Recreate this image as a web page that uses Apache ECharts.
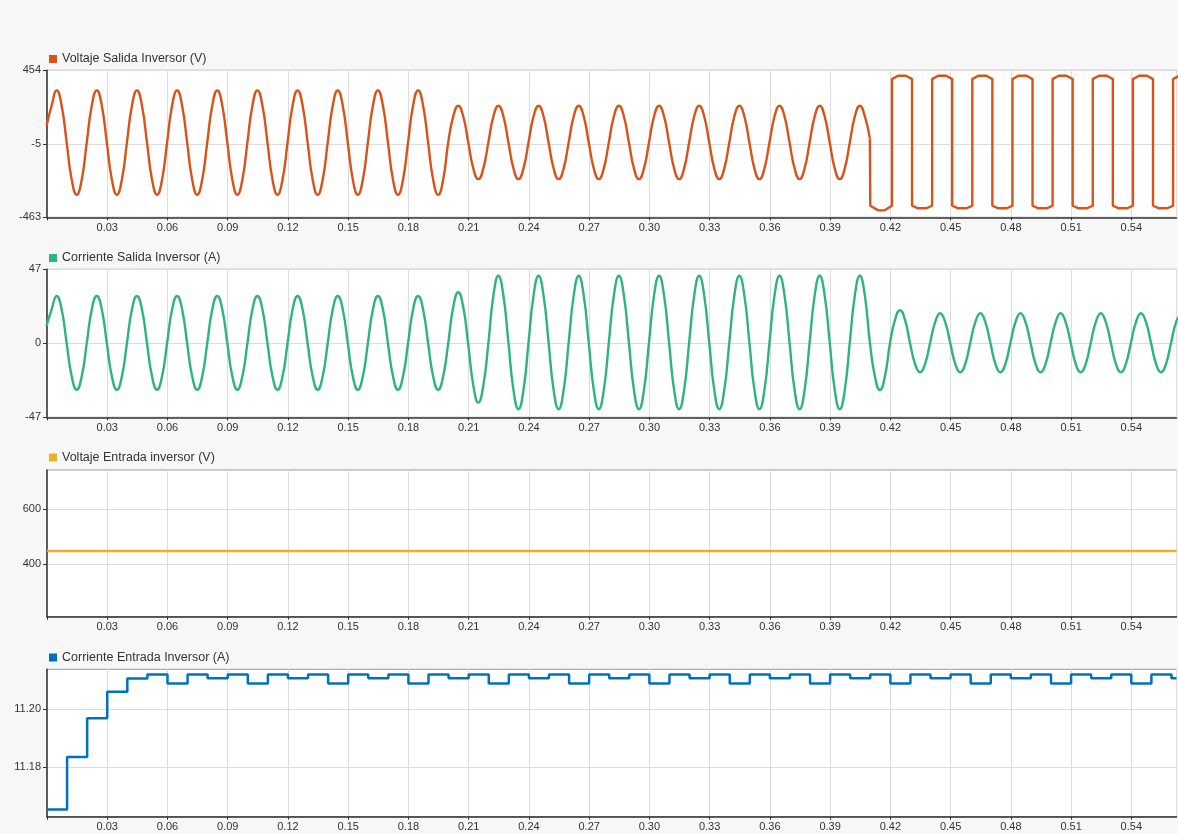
<!DOCTYPE html>
<html>
<head>
<meta charset="utf-8">
<script src="https://cdn.jsdelivr.net/npm/echarts@6/dist/echarts.min.js"></script>
<style>
html,body{margin:0;padding:0;background:#f7f7f7;}
#chart{width:1178px;height:834px;}
</style>
</head>
<body>
<div id="chart"></div>
<script>
// ---------------- DATA ----------------
// time axis
const xMin = 0;
const xMax = 0.5625;
const xInterval = 0.03;

// series names
const nameVout = 'Voltaje Salida Inversor (V)';
const nameIout = 'Corriente Salida Inversor (A)';
const nameVin  = 'Voltaje Entrada inversor (V)';
const nameIin  = 'Corriente Entrada Inversor (A)';

// y tick labels per panel
const voutTicks = [-463, -5, 454];
const ioutTicks = [-47, 0, 47];
const vinTicks  = [400, 600];
const iinTicks  = [11.18, 11.20];

// sampled waveforms: sample k is at time waveT0 + k * waveDt
const waveT0 = -0.0002;
const waveDt = 0.0025;

// output voltage (sinusoidal part, up to ~0.41 s)
const voutSine = [
  110, 233, 329, 233, 3, -228, -323, -228,
  3, 233, 329, 233, 3, -228, -323, -228,
  3, 233, 329, 233, 3, -228, -323, -228,
  3, 233, 329, 233, 3, -228, -323, -228,
  3, 233, 329, 233, 3, -228, -323, -228,
  3, 233, 329, 233, 3, -228, -323, -228,
  3, 233, 329, 233, 3, -228, -323, -228,
  3, 233, 329, 233, 3, -228, -323, -228,
  3, 233, 329, 233, 3, -228, -323, -228,
  3, 233, 329, 233, 3, -228, -323, -228,
  4, 166, 233, 166, 4, -158, -225, -158,
  4, 166, 233, 166, 4, -158, -225, -158,
  4, 166, 233, 166, 4, -158, -225, -158,
  4, 166, 233, 166, 4, -158, -225, -158,
  4, 166, 233, 166, 4, -158, -225, -158,
  4, 166, 233, 166, 4, -158, -225, -158,
  4, 166, 233, 166, 4, -158, -225, -158,
  4, 166, 233, 166, 4, -158, -225, -158,
  4, 166, 233, 166, 4, -158, -225, -158,
  4, 166, 233, 166, 4, -158, -225, -158,
  4, 166, 233, 166,
  29
];

// output voltage (square-wave part, after ~0.41 s)
const voutSquareT = [
  0.4098, 0.4100, 0.4140, 0.4170,
  0.4208, 0.4208, 0.4238, 0.4278, 0.4308, 0.4308, 0.4338, 0.4378,
  0.4408, 0.4408, 0.4438, 0.4478, 0.4508, 0.4508, 0.4538, 0.4578,
  0.4608, 0.4608, 0.4638, 0.4678, 0.4708, 0.4708, 0.4738, 0.4778,
  0.4808, 0.4808, 0.4838, 0.4878, 0.4908, 0.4908, 0.4938, 0.4978,
  0.5008, 0.5008, 0.5038, 0.5078, 0.5108, 0.5108, 0.5138, 0.5178,
  0.5208, 0.5208, 0.5238, 0.5278, 0.5308, 0.5308, 0.5338, 0.5378,
  0.5408, 0.5408, 0.5438, 0.5478, 0.5508, 0.5508, 0.5538, 0.5578,
  0.5608, 0.5608, 0.5638, 0.5678
];
const voutSquareV = [
  29, -391, -420, -420,
  -391, 399, 420, 420, 399, -391, -407, -407,
  -391, 399, 420, 420, 399, -391, -407, -407,
  -391, 399, 420, 420, 399, -391, -407, -407,
  -391, 399, 420, 420, 399, -391, -407, -407,
  -391, 399, 420, 420, 399, -391, -407, -407,
  -391, 399, 420, 420, 399, -391, -407, -407,
  -391, 399, 420, 420, 399, -391, -407, -407,
  -391, 399, 420, 420
];

// output current
const ioutWave = [
  11, 21.5, 30, 21.5, 0, -21, -29.5, -21,
  0, 21.5, 30, 21.5, 0, -21, -29.5, -21,
  0, 21.5, 30, 21.5, 0, -21, -29.5, -21,
  0, 21.5, 30, 21.5, 0, -21, -29.5, -21,
  0, 21.5, 30, 21.5, 0, -21, -29.5, -21,
  0, 21.5, 30, 21.5, 0, -21, -29.5, -21,
  0, 21.5, 30, 21.5, 0, -21, -29.5, -21,
  0, 21.5, 30, 21.5, 0, -21, -29.5, -21,
  0, 21.5, 30, 21.5, 0, -21, -29.5, -21,
  0, 21.5, 30, 21.5, 0, -21, -29.5, -21,
  0, 23, 32.4, 23, -1, -26.7, -37.7, -26.7,
  0, 30.3, 42.9, 30.3, 0.5, -29.6, -41.9, -29.6,
  0.5, 30.3, 42.9, 30.3, 0.5, -29.6, -41.9, -29.6,
  0.5, 30.3, 42.9, 30.3, 0.5, -29.6, -41.9, -29.6,
  0.5, 30.3, 42.9, 30.3, 0.5, -29.6, -41.9, -29.6,
  0.5, 30.3, 42.9, 30.3, 0.5, -29.6, -41.9, -29.6,
  0.5, 30.3, 42.9, 30.3, 0.5, -29.6, -41.9, -29.6,
  0.5, 30.3, 42.9, 30.3, 0.5, -29.6, -41.9, -29.6,
  0.5, 30.3, 42.9, 30.3, 0.5, -29.6, -41.9, -29.6,
  0.5, 30.3, 42.9, 30.3, 0.5, -29.6, -41.9, -29.6,
  0.5, 30.3, 42.9, 30.3, 0.5, -21, -29.7, -21,
  0, 14.9, 21.1, 14.9, 0, -13, -18.4, -13,
  0.35, 13.5, 19.1, 13.5, 0.35, -13, -18.4, -13,
  0.35, 13.5, 19.1, 13.5, 0.35, -13, -18.4, -13,
  0.35, 13.5, 19.1, 13.5, 0.35, -13, -18.4, -13,
  0.35, 13.5, 19.1, 13.5, 0.35, -13, -18.4, -13,
  0.35, 13.5, 19.1, 13.5, 0.35, -13, -18.4, -13,
  0.35, 13.5, 19.1, 13.5, 0.35, -13, -18.4, -13,
  0.35, 13.5, 19.1
];

// input voltage (constant DC)
const vinT = [0, 0.5625];
const vinV = [448, 448];

// input current, zero-order hold, one value every iinDt seconds
const iinDt = 0.01;
const iinValues = [
  11.1653, 11.1835, 11.1969, 11.2061, 11.2107,
  11.2121, 11.2090, 11.2121, 11.2108,
  11.2121, 11.2090, 11.2121, 11.2108,
  11.2121, 11.2090, 11.2121, 11.2108,
  11.2121, 11.2090, 11.2121, 11.2108,
  11.2121, 11.2090, 11.2121, 11.2108,
  11.2121, 11.2090, 11.2121, 11.2108,
  11.2121, 11.2090, 11.2121, 11.2108,
  11.2121, 11.2090, 11.2121, 11.2108,
  11.2121, 11.2090, 11.2121, 11.2108,
  11.2121, 11.2090, 11.2121, 11.2108,
  11.2121, 11.2090, 11.2121, 11.2108,
  11.2121, 11.2090, 11.2121, 11.2108,
  11.2121, 11.2090, 11.2121, 11.2108
];

// ---------------- BUILD ----------------
const rt = v => Math.round(v * 1e6) / 1e6;
const voutSineData = voutSine.map((v, k) => [rt(waveT0 + k * waveDt), v]);
const voutSquareData = voutSquareT.map((t, i) => [t, voutSquareV[i]]);
const ioutData = ioutWave.map((v, k) => [rt(waveT0 + k * waveDt), v]);
const vinData = vinT.map((t, i) => [t, vinV[i]]);
const iinData = iinValues.map((v, i) => [rt(i * iinDt), v]);
iinData.push([xMax, iinValues[iinValues.length - 1]]);

const FONT = "'Liberation Sans', Arial, Helvetica, sans-serif";
const colors = { vout: '#D95319', iout: '#2DB57A', vin: '#EDB120', iin: '#0072BD' };

const panels = [
  { name: nameVout, color: colors.vout, top: 70.3, height: 147, min: -463, max: 454, ticks: voutTicks, fmt: v => String(v), legendTop: 52.5 },
  { name: nameIout, color: colors.iout, top: 269.3, height: 148, min: -47, max: 47, ticks: ioutTicks, fmt: v => String(v), legendTop: 251.5 },
  { name: nameVin,  color: colors.vin,  top: 470, height: 146.7, min: 210, max: 741, ticks: vinTicks, fmt: v => String(v), legendTop: 451 },
  { name: nameIin,  color: colors.iin,  top: 669.3, height: 147.4, min: 11.1628, max: 11.2139, ticks: iinTicks, fmt: v => v.toFixed(2), legendTop: 651 }
];

const grid = [], xAxis = [], yAxis = [], legend = [];
panels.forEach((p, i) => {
  grid.push({
    left: 47, width: 1129.5, top: p.top, height: p.height,
    show: true, backgroundColor: '#ffffff', borderColor: '#9a9a9a', borderWidth: 1,
    containLabel: false, outerBoundsMode: 'none'
  });
  xAxis.push({
    type: 'value', gridIndex: i, min: xMin, max: xMax, interval: xInterval,
    axisLine: { show: true, onZero: false, lineStyle: { color: '#333', width: 1.5 } },
    axisTick: { show: true, length: 3, lineStyle: { color: '#333' } },
    axisLabel: {
      show: true, color: '#333', fontSize: 11, fontFamily: FONT, margin: 5,
      showMaxLabel: false,
      formatter: v => (v <= 0 || v > 0.555) ? '' : v.toFixed(2)
    },
    splitLine: { show: true, lineStyle: { color: '#dddddd', width: 1 } }
  });
  yAxis.push({
    type: 'value', gridIndex: i, min: p.min, max: p.max,
    axisLine: { show: true, onZero: false, lineStyle: { color: '#333', width: 1.5 } },
    axisTick: { show: true, length: 4, lineStyle: { color: '#333' }, customValues: p.ticks },
    axisLabel: { show: true, color: '#333', fontSize: 11, fontFamily: FONT, margin: 6, customValues: p.ticks, formatter: p.fmt },
    splitLine: { show: true, lineStyle: { color: '#dddddd', width: 1 } }
  });
  legend.push({
    data: [p.name], left: 49, top: p.legendTop, padding: 0,
    icon: 'rect', itemWidth: 8, itemHeight: 8,
    selectedMode: false,
    textStyle: { color: '#333', fontSize: 12.5, fontFamily: FONT }
  });
});

const lineBase = { type: 'line', symbol: 'none', showSymbol: false, animation: false, emphasis: { disabled: true } };
const series = [
  Object.assign({}, lineBase, { name: nameVout, xAxisIndex: 0, yAxisIndex: 0, smooth: 0.5, data: voutSineData, itemStyle: { color: colors.vout }, lineStyle: { color: colors.vout, width: 2.4 } }),
  Object.assign({}, lineBase, { name: nameVout, xAxisIndex: 0, yAxisIndex: 0, data: voutSquareData, itemStyle: { color: colors.vout }, lineStyle: { color: colors.vout, width: 2.4 } }),
  Object.assign({}, lineBase, { name: nameIout, xAxisIndex: 1, yAxisIndex: 1, smooth: 0.5, data: ioutData, itemStyle: { color: colors.iout }, lineStyle: { color: colors.iout, width: 2.4 } }),
  Object.assign({}, lineBase, { name: nameVin, xAxisIndex: 2, yAxisIndex: 2, data: vinData, itemStyle: { color: colors.vin }, lineStyle: { color: colors.vin, width: 2.4 } }),
  Object.assign({}, lineBase, { name: nameIin, xAxisIndex: 3, yAxisIndex: 3, step: 'end', data: iinData, itemStyle: { color: colors.iin }, lineStyle: { color: colors.iin, width: 2.5 } })
];

const chart = echarts.init(document.getElementById('chart'), null, { renderer: 'canvas' });
chart.setOption({
  animation: false,
  backgroundColor: '#f7f7f7',
  textStyle: { fontFamily: FONT },
  grid, xAxis, yAxis, legend, series
});
</script>
</body>
</html>
